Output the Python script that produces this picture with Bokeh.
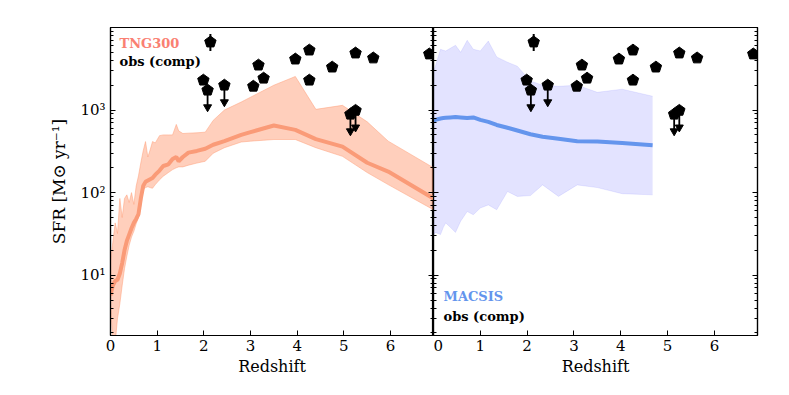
import numpy as np
from bokeh.plotting import figure
from bokeh.layouts import row
from bokeh.models import LogAxis, LogTicker, Label, Range1d, CustomJSTickFormatter
from bokeh.embed import file_html
from bokeh.resources import INLINE

# ---------------- data ----------------
tng_z = [0.0, 0.05, 0.1, 0.15, 0.2, 0.25, 0.3, 0.35, 0.4, 0.45, 0.5, 0.55, 0.6, 0.65, 0.7,
         0.75, 0.8, 0.85, 0.9, 0.96, 1.05, 1.13, 1.24, 1.33, 1.41, 1.46, 1.55, 1.67, 1.85,
         2.03, 2.2, 2.44, 2.8, 3.0, 3.5, 3.96, 4.4, 4.97, 5.5, 5.95, 6.92]
tng_med = [5.7, 7.5, 8.5, 8.8, 10.5, 14, 20, 26, 31, 37, 43, 48, 55, 85, 120,
           135, 140, 145, 150, 165, 185, 210, 220, 255, 270, 240, 270, 305, 320,
           340, 380, 420, 500, 540, 650, 575, 445, 360, 230, 180, 85]
tng_hi = [15, 25, 43, 32, 85, 50, 85, 94, 76, 100, 72, 120, 160, 230, 320,
          415, 270, 330, 415, 400, 490, 500, 500, 500, 670, 560, 520, 525, 530,
          540, 750, 1000, 1250, 1430, 2000, 2550, 1020, 1140, 720, 420, 200]
tng_lo = [4.5, 1.5, 1.5, 3.0, 4.5, 7.5, 12, 17, 23, 29, 34, 42, 50, 70, 108,
          115, 118, 115, 113, 125, 143, 158, 175, 190, 200, 205, 205, 215, 228,
          240, 300, 350, 410, 420, 440, 440, 350, 275, 175, 125, 62]

mac_z = [0.0, 0.04, 0.15, 0.21, 0.26, 0.36, 0.47, 0.58, 0.72, 0.85, 1.0, 1.17, 1.35,
         1.58, 1.79, 2.07, 2.33, 2.67, 3.07, 3.5, 4.03, 4.68]
mac_med = [740, 760, 790, 800, 805, 815, 825, 815, 800, 815, 760, 720, 660,
           610, 565, 510, 475, 450, 420, 415, 400, 375]
mac_hi = [3000, 3400, 5450, 5300, 5200, 5600, 6100, 5000, 7000, 5450, 5200, 6850, 4400,
          3800, 3400, 2250, 2000, 1940, 2000, 1640, 1790, 1470]
mac_lo = [30, 33, 31, 38, 43, 38, 33, 45, 59, 54, 65, 71, 62,
          103, 90, 92, 124, 90, 124, 115, 97, 94]

# observations (detections)
obs_z = [2.14, 1.99, 3.06, 3.17, 3.28, 3.96, 4.26, 4.26, 4.75, 5.25, 5.63, 6.83]
obs_sfr = [6660, 2300, 1940, 3500, 2430, 4140, 5320, 2300, 3310, 4900, 4270, 4770]
# observation with error bar
err_z = [2.14]
err_lo = [5180]
err_hi = [8330]
# upper limits
ul_z = [2.08, 2.44, 5.14, 5.25]
ul_sfr = [1740, 2000, 890, 990]

x_ticks = [0, 1, 2, 3, 4, 5, 6]
y_tick_labels = {10: "10¹", 100: "10²", 1000: "10³", 10000: ""}

# ---------------- style ----------------
FONT = "DejaVu Serif"
X_END = 6.92
Y_START, Y_END = 1.86, 10000
ARROW = 0.6
TNG_LINE = "#FA9B78"
TNG_FILL = "#FFA07A"
MAC_LINE = "#6495ED"
MAC_FILL = "#0000FF"


def y_ticker():
    return LogTicker(num_minor_ticks=10)


def style_axis(ax, labels):
    ax.axis_line_color = "black"
    ax.axis_line_width = 1.2
    ax.major_tick_in = 5
    ax.major_tick_out = 0
    ax.minor_tick_in = 3
    ax.minor_tick_out = 0
    ax.major_tick_line_color = "black"
    ax.minor_tick_line_color = "black"
    ax.major_label_text_color = "black"
    ax.axis_label_text_color = "black"
    if not labels:
        ax.formatter = CustomJSTickFormatter(code="return ''")
        ax.major_label_standoff = 0
        ax.axis_label_standoff = 0


def make_fig(left_border, right_border, fw, y_labels):
    p = figure(frame_width=fw, frame_height=308, y_axis_type="log",
               x_range=Range1d(0, X_END), y_range=Range1d(Y_START, Y_END),
               output_backend="svg", toolbar_location=None,
               min_border_left=left_border, min_border_right=right_border,
               min_border_top=27, min_border_bottom=45)
    p.xgrid.visible = False
    p.ygrid.visible = False
    p.outline_line_color = "black"
    p.outline_line_width = 1.2
    p.background_fill_color = "white"
    p.border_fill_color = "white"

    xa = p.xaxis[0]
    xa.ticker = x_ticks
    style_axis(xa, True)
    xa.minor_tick_line_color = None
    xa.major_label_text_font = FONT
    xa.major_label_text_font_size = "15px"
    xa.axis_label = "Redshift"
    xa.axis_label_text_font = FONT
    xa.axis_label_text_font_size = "16px"
    xa.axis_label_text_font_style = "normal"
    xa.axis_label_standoff = 3
    xa.major_label_standoff = 4

    ya = p.yaxis[0]
    ya.ticker = y_ticker()
    style_axis(ya, y_labels)
    if y_labels:
        ya.major_label_overrides = y_tick_labels
        ya.major_label_text_font = FONT
        ya.major_label_text_font_size = "15px"
        ya.axis_label = "SFR [M⊙ yr⁻¹]"
        ya.axis_label_text_font = FONT
        ya.axis_label_text_font_size = "17px"
        ya.axis_label_text_font_style = "normal"
        ya.axis_label_standoff = 8
        ya.major_label_standoff = 5

    ra = LogAxis(ticker=y_ticker())
    style_axis(ra, False)
    p.add_layout(ra, "right")
    return p


def add_obs(p):
    p.segment(x0=err_z, y0=err_lo, x1=err_z, y1=err_hi, line_color="black", line_width=2)
    tips = [v * ARROW for v in ul_sfr]
    p.segment(x0=ul_z, y0=ul_sfr, x1=ul_z, y1=tips, line_color="black", line_width=1.8)
    p.scatter(x=ul_z, y=[v * 1.04 for v in tips], marker="inverted_triangle", size=8,
              fill_color="black", line_color="black")
    allz = obs_z + ul_z
    ally = obs_sfr + ul_sfr
    p.ngon(x=allz, y=ally, radius=6, radius_units="screen", n=5, angle=0,
           fill_color="black", line_color="black")


# ---------------- left panel: TNG300 ----------------
left = make_fig(110, 0, 323, True)
left.varea(x=tng_z, y1=tng_lo, y2=tng_hi, fill_color=TNG_FILL, fill_alpha=0.5)
left.line(x=tng_z, y=tng_hi, line_color=TNG_FILL, line_alpha=0.5, line_width=1)
left.line(x=tng_z, y=tng_lo, line_color=TNG_FILL, line_alpha=0.5, line_width=1)
left.line(x=tng_z, y=tng_med, line_color=TNG_LINE, line_width=4)
add_obs(left)
left.add_layout(Label(x=9, y=292, x_units="screen", y_units="screen", text="TNG300",
                      text_font=FONT, text_font_style="bold", text_font_size="13px",
                      text_color="#FA8072", text_baseline="middle"))
left.add_layout(Label(x=9, y=274, x_units="screen", y_units="screen", text="obs (comp)",
                      text_font=FONT, text_font_style="bold", text_font_size="13px",
                      text_color="black", text_baseline="middle"))

# ---------------- right panel: MACSIS ----------------
right = make_fig(0, 20, 324, False)
right.varea(x=mac_z, y1=mac_lo, y2=mac_hi, fill_color=MAC_FILL, fill_alpha=0.11)
right.line(x=mac_z, y=mac_hi, line_color=MAC_FILL, line_alpha=0.08, line_width=1)
right.line(x=mac_z, y=mac_lo, line_color=MAC_FILL, line_alpha=0.08, line_width=1)
right.line(x=mac_z, y=mac_med, line_color=MAC_LINE, line_width=4)
add_obs(right)
right.add_layout(Label(x=10, y=39, x_units="screen", y_units="screen", text="MACSIS",
                       text_font=FONT, text_font_style="bold", text_font_size="13px",
                       text_color=MAC_LINE, text_baseline="middle"))
right.add_layout(Label(x=10, y=19, x_units="screen", y_units="screen", text="obs (comp)",
                       text_font=FONT, text_font_style="bold", text_font_size="13px",
                       text_color="black", text_baseline="middle"))

layout = row(left, right, spacing=0)
open("out.html", "w").write(file_html(layout, INLINE))
